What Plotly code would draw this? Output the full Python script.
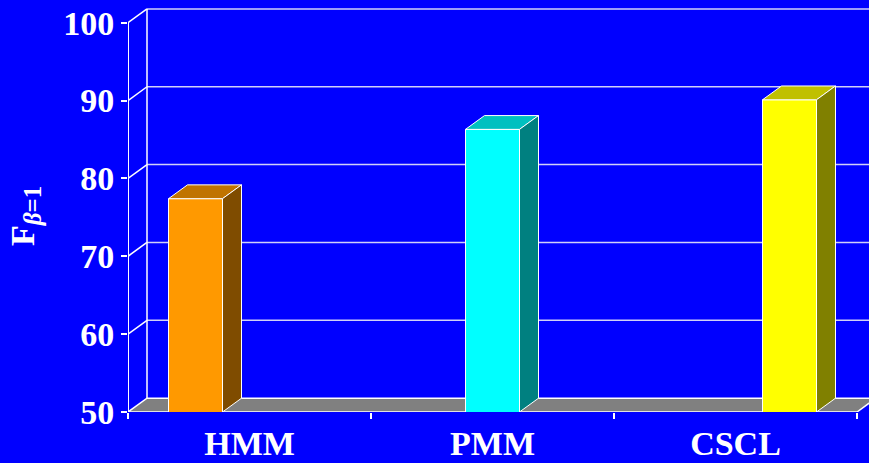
import plotly.graph_objects as go

# ---- data ----
categories = ["HMM", "PMM", "CSCL"]
values = [77.4, 86.3, 90.1]
front_colors = ["#FF9900", "#00FFFF", "#FFFF00"]
top_colors = ["#C07300", "#00C0C0", "#C0C000"]
side_colors = ["#7F4C00", "#008080", "#808000"]
y_ticks = [50, 60, 70, 80, 90, 100]

# ---- pseudo-3D geometry (data units) ----
YMIN, YMAX_TICK = 50, 100
W, H = 869, 463
ML, MR, MT, MB = 128, 0, 4, 51
PX_PER_Y = (412 - 22.7) / 50.0
PX_PER_X = 243.0
X0 = -0.5
XMAX = X0 + (W - ML - MR) / PX_PER_X
YTOP = YMIN + (H - MT - MB) / PX_PER_Y
DX = 19.0 / PX_PER_X
DY = 13.8 / PX_PER_Y
BGAP = 1.0 / 3.0
BW = (1 - BGAP) / len(categories)
XEND = len(categories) - 0.5

FONT = "Liberation Serif, Times New Roman, serif"
GRID = "#D0D0F8"

fig = go.Figure()

# front faces (grouped bars: one series per method)
for i, (cat, v) in enumerate(zip(categories, values)):
    ys = [None] * len(categories)
    ys[i] = v
    fig.add_trace(go.Bar(
        x=list(range(len(categories))), y=ys, name=cat,
        marker=dict(color=front_colors[i], line=dict(color="white", width=1)),
        showlegend=False, hoverinfo="skip"))

# top and side faces
for i, v in enumerate(values):
    xc = i + (i - 1) * BW
    x0, x1 = xc - BW / 2, xc + BW / 2
    fig.add_trace(go.Scatter(
        x=[x0, x0 + DX, x1 + DX, x1, x0], y=[v, v + DY, v + DY, v, v],
        mode="lines", fill="toself", fillcolor=top_colors[i],
        line=dict(color="white", width=1), showlegend=False, hoverinfo="skip"))
    fig.add_trace(go.Scatter(
        x=[x1, x1 + DX, x1 + DX, x1, x1], y=[YMIN, YMIN + DY, v + DY, v, YMIN],
        mode="lines", fill="toself", fillcolor=side_colors[i],
        line=dict(color="white", width=1), showlegend=False, hoverinfo="skip"))

shapes = []
# floor
shapes.append(dict(
    type="path", xref="x", yref="y", layer="below",
    path=f"M {X0},{YMIN} L {XEND},{YMIN} L {XEND + DX},{YMIN + DY} L {X0 + DX},{YMIN + DY} Z",
    fillcolor="#808080", line=dict(color="white", width=1.5)))
# back wall gridlines + side diagonals
for t in y_ticks:
    if t > YMIN:
        shapes.append(dict(type="line", xref="x", yref="y", layer="below",
                           x0=X0 + DX, x1=XMAX + 1, y0=t + DY, y1=t + DY,
                           line=dict(color=GRID, width=1.5)))
        shapes.append(dict(type="line", xref="x", yref="y", layer="below",
                           x0=X0, x1=X0 + DX, y0=t, y1=t + DY,
                           line=dict(color="white", width=1.5)))
# back-left vertical edge
shapes.append(dict(type="line", xref="x", yref="y", layer="below",
                   x0=X0 + DX, x1=X0 + DX, y0=YMIN + DY, y1=YMAX_TICK + DY,
                   line=dict(color="white", width=1.5)))
# front value axis line
shapes.append(dict(type="line", xref="x", yref="y", layer="below",
                   x0=X0, x1=X0, y0=YMIN, y1=YMAX_TICK,
                   line=dict(color="white", width=2)))

fig.update_layout(
    width=W, height=H,
    margin=dict(l=ML, r=MR, t=MT, b=MB, pad=0, autoexpand=False),
    paper_bgcolor="#0000FF", plot_bgcolor="#0000FF",
    barmode="group", bargap=BGAP, bargroupgap=0,
    shapes=shapes,
    font=dict(family=FONT, color="white"),
    xaxis=dict(range=[X0, XMAX], tickvals=list(range(len(categories))), ticktext=categories,
               ticks="", showgrid=False, zeroline=False, showline=False, automargin=False,
               tickfont=dict(family=FONT, size=34, color="white", weight="bold"),
               ticklabelstandoff=8,
               minor=dict(tickmode="array", tickvals=[k - 0.5 for k in range(len(categories) + 1)],
                          ticks="outside", ticklen=6, tickwidth=1.5, tickcolor="white",
                          showgrid=False)),
    yaxis=dict(range=[YMIN, YTOP], tickvals=y_ticks, ticks="outside", ticklen=6,
               tickwidth=1.5, tickcolor="white", showgrid=False, zeroline=False,
               showline=False, automargin=False,
               tickfont=dict(family=FONT, size=34, color="white", weight="bold")),
    annotations=[dict(text="F<sub><span style='font-size:25px'><i>β</i>=1</span></sub>",
                      textangle=-90, showarrow=False,
                      xref="paper", yref="paper", x=(25 - ML) / (W - ML - MR),
                      y=(412 - 216) / (H - MT - MB), xanchor="center", yanchor="middle",
                      font=dict(family=FONT, size=34, color="white", weight="bold"))],
)

fig.write_html("out.html", config={"displayModeBar": False},
               post_script="document.body.style.margin='0';document.body.style.overflow='hidden';")
